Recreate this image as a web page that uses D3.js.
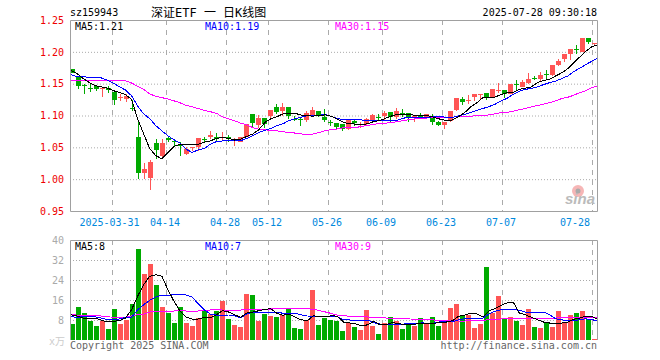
<!DOCTYPE html>
<html>
<head>
<meta charset="utf-8">
<script src="https://cdn.jsdelivr.net/npm/d3@7"></script>
<style>
body { margin: 0; background: #fff; }
svg { display: block; }
text { font-family: "DejaVu Sans Mono", "Noto Sans CJK SC", monospace; font-size: 10px; }
</style>
</head>
<body>
<div id="wrapper"></div>
<script>
// trading days shown on the chart
const dates = ["03-20","03-21","03-24","03-25","03-26","03-27","03-28","03-31","04-01","04-02","04-03","04-07","04-08","04-09","04-10","04-11",
  "04-14","04-15","04-16","04-17","04-18","04-21","04-22","04-23","04-24","04-25","04-28","04-29","04-30","05-06","05-07","05-08","05-09",
  "05-12","05-13","05-14","05-15","05-16","05-19","05-20","05-21","05-22","05-23","05-26","05-27","05-28","05-29","05-30","06-03","06-04",
  "06-05","06-06","06-09","06-10","06-11","06-12","06-13","06-16","06-17","06-18","06-19","06-20","06-23","06-24","06-25","06-26","06-27",
  "06-30","07-01","07-02","07-03","07-04","07-07","07-08","07-09","07-10","07-11","07-14","07-15","07-16","07-17","07-18","07-21","07-22",
  "07-23","07-24","07-25","07-28"]
const tickDates = ["03-31","04-14","04-28","05-12","05-26","06-09","06-23","07-07","07-28"]
const priceTicks = [0.95, 1.00, 1.05, 1.10, 1.15, 1.20, 1.25]
const volTicks = [8, 16, 24, 32, 40]

const opens = [1.173,1.161,1.148,1.143,1.146,1.143,1.143,1.137,1.129,1.126,
  1.1115,1.066,1.009,1.002,1.057,1.036,1.0645,1.0595,1.056,1.040,
  1.0505,1.051,1.0635,1.066,1.067,1.0667,1.067,1.0615,1.059,1.067,
  1.102,1.085,1.096,1.0985,1.114,1.107,1.113,1.0945,1.0945,1.0925,
  1.0995,1.107,1.0975,1.09,1.088,1.0865,1.0785,1.0915,1.086,1.0865,
  1.0925,1.097,1.0995,1.105,1.098,1.1047,1.1045,1.0955,1.0985,1.0955,
  1.0969,1.090,1.085,1.092,1.1083,1.1255,1.124,1.1286,1.134,1.135,
  1.128,1.1385,1.1395,1.133,1.1488,1.145,1.1515,1.159,1.158,1.1648,
  1.163,1.180,1.188,1.196,1.2047,1.20,1.221,1.213]
const closes = [1.167,1.147,1.147,1.142,1.142,1.143,1.140,1.125,1.129,1.130,
  1.1105,1.010,1.016,1.027,1.046,1.057,1.062,1.059,1.0515,1.048,
  1.0505,1.064,1.0632,1.069,1.0635,1.0667,1.064,1.0615,1.0655,1.086,
  1.088,1.096,1.0865,1.108,1.105,1.113,1.0995,1.094,1.094,1.1035,
  1.108,1.0995,1.0925,1.0895,1.082,1.0795,1.093,1.0875,1.086,1.094,
  1.1005,1.0965,1.1035,1.098,1.107,1.1045,1.097,1.0995,1.098,1.102,
  1.090,1.085,1.090,1.1068,1.127,1.1214,1.124,1.1333,1.134,1.1286,
  1.141,1.1395,1.133,1.149,1.148,1.152,1.158,1.1585,1.163,1.1642,
  1.1787,1.185,1.196,1.205,1.2026,1.221,1.215,1.2135]
const highs = [1.173,1.161,1.149,1.151,1.148,1.143,1.146,1.137,1.133,1.1345,
  1.125,1.092,1.0255,1.030,1.063,1.063,1.067,1.0595,1.059,1.050,
  1.051,1.064,1.0655,1.075,1.072,1.0734,1.069,1.065,1.067,1.086,
  1.102,1.1005,1.096,1.108,1.118,1.119,1.113,1.0985,1.097,1.107,
  1.113,1.107,1.11,1.0925,1.088,1.0865,1.095,1.094,1.0895,1.096,
  1.102,1.102,1.107,1.105,1.1115,1.11,1.1045,1.1,1.1035,1.102,
  1.1016,1.0917,1.090,1.1068,1.127,1.129,1.132,1.1333,1.134,1.135,
  1.141,1.1505,1.1395,1.149,1.155,1.156,1.166,1.162,1.168,1.172,
  1.1787,1.188,1.196,1.205,1.21,1.221,1.221,1.214]
const lows = [1.167,1.141,1.133,1.137,1.138,1.129,1.135,1.116,1.1225,1.121,
  1.107,1.0005,0.9995,0.983,1.031,1.032,1.058,1.0515,1.037,1.0385,
  1.045,1.045,1.058,1.063,1.058,1.062,1.059,1.0526,1.058,1.066,
  1.081,1.080,1.081,1.094,1.102,1.0995,1.094,1.0915,1.084,1.0905,
  1.097,1.097,1.09,1.083,1.0775,1.076,1.0775,1.083,1.081,1.0855,
  1.091,1.0915,1.093,1.088,1.094,1.097,1.09,1.09,1.095,1.094,
  1.085,1.083,1.0786,1.090,1.1068,1.117,1.118,1.1234,1.1266,1.124,
  1.127,1.135,1.1276,1.133,1.140,1.144,1.149,1.155,1.153,1.157,
  1.162,1.1776,1.184,1.187,1.197,1.1995,1.212,1.211]

const priceMa5 = [1.171,1.166,1.158,1.152,1.147,1.145,1.143,1.139,1.136,1.133,1.125,
  1.095,1.071,1.048,1.037,1.032,1.042,1.0515,1.055,1.055,1.054,1.055,1.058,1.060,1.064,
  1.0656,1.064,1.0615,1.063,1.067,1.071,1.0776,1.089,1.095,1.098,1.1026,1.103,1.1036,1.1005,1.0995,
  1.099,1.100,1.101,1.0985,1.094,1.089,1.087,1.0865,1.086,1.087,1.0906,1.092,1.096,1.0995,1.102,
  1.102,1.102,1.0995,1.0995,1.0995,
  1.097,1.094,1.092,1.093,1.0984,1.1047,1.1135,1.120,1.128,1.128,1.129,1.133,1.136,1.136,1.141,
  1.143,1.145,1.1516,1.155,1.157,1.162,1.167,1.1734,1.183,1.192,1.201,1.208,1.211]
const priceMa10 = [1.164,1.161,1.161,1.160,1.160,1.159,1.1555,1.151,1.145,1.140,1.131,1.115,1.1025,
  1.095,1.084,1.076,1.068,1.062,1.0565,1.047,1.042,1.046,1.048,1.055,1.059,
  1.060,1.060,1.060,1.0604,1.064,1.068,1.0734,1.0766,1.0797,1.084,1.087,1.092,1.095,1.0974,1.0995,
  1.1005,1.1005,1.1016,1.0984,1.095,1.0937,1.093,1.093,1.093,1.092,1.0917,1.0917,1.0917,1.092,1.093,
  1.096,1.097,1.097,1.097,1.0974,
  1.098,1.098,1.0974,1.097,1.0995,1.1016,1.1047,1.1083,1.111,1.114,1.1177,1.123,1.127,1.1333,1.138,
  1.141,1.1427,1.145,1.1484,1.1516,1.154,1.158,1.162,1.169,1.1745,1.18,1.1854,1.19]
const priceMa30 = [1.155,1.155,1.1555,1.155,1.155,1.155,1.155,1.1545,1.1545,1.1545,1.151,1.146,1.141,
  1.134,1.130,1.128,1.126,1.123,1.120,1.116,1.1136,1.111,1.108,1.106,1.1035,
  1.098,1.095,1.0917,1.088,1.0854,1.081,1.0786,1.0776,1.0766,1.076,1.0745,1.0734,1.0724,1.071,1.0703,
  1.071,1.0734,1.0766,1.0776,1.079,1.0807,1.081,1.081,1.083,1.0844,1.086,1.0875,1.088,1.089,1.0906,
  1.092,1.0937,1.095,1.0953,1.0964,
  1.0964,1.0967,1.097,1.0974,1.0984,1.0984,1.099,1.0995,1.10,1.101,1.1026,1.1047,1.1047,1.1068,1.109,
  1.111,1.1135,1.1156,1.118,1.120,1.123,1.1266,1.1286,1.1318,1.136,1.139,1.1437,1.147]

const volumes = [6.5,13.3,10.9,7.7,5.7,7.7,4.5,12.5,6.5,8.1,14.5,36.5,26.5,30.5,22.1,13.3,10.9,6.9,13.3,6.9,5.7,8.9,11.7,10.5,11.7,
  15.7,8.5,6.1,5.3,18.5,18.1,7.7,10.5,9.7,9.3,10.1,12.5,4.9,4.5,8.1,20.1,6.1,8.9,8.1,7.7,3.7,6.9,5.3,4.1,12.1,5.7,2.5,6.9,9.3,7.7,4.5,6.9,5.7,8.9,
  6.5,9.3,5.7,7.3,12.9,14.5,9.7,10.1,4.9,6.5,29.3,10.9,17.7,8.9,9.3,7.7,6.1,12.5,5.3,4.9,6.9,5.3,11.7,6.9,10.1,10.9,11.7,8.5,0.5]
const volMa5 = [10.1,9.6,8.8,8.8,8.8,8,7.2,7.5,7.7,8.8,12.1,17.5,22.1,25.5,26.1,25.5,20.1,15.5,11.5,9.2,8.4,8.4,9.1,8.8,10.1,
  11.7,11.2,10.1,9.1,10.8,11.2,11.7,12.3,12.5,10.7,9.9,10.4,9.1,8.1,7.7,9.7,9.3,9.3,9.7,9.5,7.1,6.8,6.4,5.6,6.1,7.5,6.1,6.1,6.9,6.7,6.1,6.4,6.4,6.8,
  6.4,6.7,7.2,7.2,7.7,9.5,9.9,10.8,10.4,9.2,11.7,12.5,13.9,14.8,15.2,10.8,10.1,9.1,8.1,7.2,6.8,6.8,6.8,7.2,8.3,8.8,9.5,9.5,8.1]
const volMa10 = [9.3,9.1,9.3,9.3,9.3,8.8,8.1,8.1,8.4,9.1,9.1,12.1,14.1,15.9,17.2,17.9,17.9,18.1,18.4,18,17.2,14.5,12.1,10.4,10,
  10,10,9.6,8.9,10.4,11.2,11.2,11.2,11.2,11.1,10.7,10.7,10.7,10.1,9.6,9.5,9.5,9.5,9.5,9.3,8.1,8,8,8,8,6.9,6.4,6.4,6.4,6.4,6.4,6.5,6.5,6.9,
  6.4,6.8,7.3,7.3,7.3,8.1,8.5,8.8,8.8,8.8,10.4,11.5,12.1,12.4,12.4,11.9,11.2,11.2,11.2,11.2,10.1,8.5,8.1,7.7,7.7,8.1,8.5,8.1,7.7]
const volMa30 = [10.4,9.9,9.9,9.8,9.7,9.6,9.3,9.1,8.8,9.0,9.7,10.1,10.4,11.2,11.3,11.6,11.6,11.6,11.9,11.6,11.5,11.6,11.9,12,12.1,
  12,12,12,12,12.2,12.3,12.3,12.3,12.4,12.5,12.6,12.8,12.8,12.7,12.5,12.3,11.8,11.2,10.6,9.9,9.7,9.5,9.3,9.3,9.2,9.1,9,8.8,8.7,8.6,8.5,8.4,8.3,8.2,
  8.3,8,7.7,7.7,7.7,7.6,7.6,7.7,7.7,7.7,8.3,8.3,8.4,8.5,8.5,8.6,8.7,8.8,8.8,8.8,8.8,8.8,9.2,9.2,9.2,9.1,9.1,9.1,9.1]

const width = 660
const height = 360
const left = 70
const right = 597
const priceTop = 20
const priceBottom = 211
const volTop = 240
const volBottom = 340

const upColor = "#ff5555"
const downColor = "#00aa00"
const frameColor = "#a0a0a0"

const svg = d3.select("#wrapper")
  .append("svg")
    .attr("width", width)
    .attr("height", height)

// bars sit on a 6px step, 5px wide
const xScale = d3.scaleBand()
  .domain(dates)
  .range([left, right])
  .paddingInner(1 / 6)

// the average lines run edge to edge of the plot
const lineX = d3.scaleLinear()
  .domain([0, dates.length - 1])
  .range([left + 1, right + 1])

const yPrice = d3.scaleLinear().domain([0.95, 1.25]).range([priceBottom, priceTop])
const yVol = d3.scaleLinear().domain([0, 40]).range([volBottom, volTop])

function drawGrid(yScale, ticks, top, bottom) {
  svg.append("g")
    .attr("transform", `translate(${left},0)`)
    .call(d3.axisRight(yScale).tickValues(ticks).tickSize(right - left).tickFormat(""))
    .call(g => g.select(".domain").remove())
    .selectAll("line")
      .attr("stroke", "#aaa")
      .attr("stroke-dasharray", "1,2")
  svg.append("g")
    .selectAll("line")
    .data(tickDates)
    .join("line")
      .attr("x1", d => xScale(d) + 0.5)
      .attr("x2", d => xScale(d) + 0.5)
      .attr("y1", top)
      .attr("y2", bottom)
      .attr("stroke", "#aaa")
      .attr("stroke-dasharray", "5,5")
}

function drawLine(values, yScale, color) {
  const line = d3.line()
    .x((d, i) => lineX(i))
    .y(d => yScale(d))
  svg.append("path")
    .attr("d", line(values))
    .attr("fill", "none")
    .attr("stroke", color)
    .attr("stroke-width", 1)
    .attr("shape-rendering", "crispEdges")
}

function label(x, y, txt, color, anchor) {
  return svg.append("text")
    .attr("x", x)
    .attr("y", y)
    .attr("fill", color)
    .attr("text-anchor", anchor || "start")
    .text(txt)
}

drawGrid(yPrice, priceTicks.slice(1, -1), priceTop, priceBottom)
drawGrid(yVol, volTicks.slice(0, -1), volTop, volBottom)

// sina watermark, sits behind the candles
const logo = svg.append("g")
logo.append("circle").attr("cx", 578).attr("cy", 191).attr("r", 6).attr("fill", "#f6b6b6")
logo.append("circle").attr("cx", 578).attr("cy", 191).attr("r", 2.5).attr("fill", "#aaa")
logo.append("text")
  .attr("x", 565)
  .attr("y", 204)
  .attr("fill", "#bbb")
  .style("font-family", "'Liberation Sans', sans-serif")
  .style("font-size", "15px")
  .style("font-weight", "bold")
  .style("font-style", "italic")
  .text("sina")

// candles
const candles = svg.append("g").selectAll("g")
  .data(dates)
  .join("g")
    .attr("shape-rendering", "crispEdges")
    .attr("fill", (d, i) => closes[i] >= opens[i] ? upColor : downColor)

candles.append("rect")
  .attr("x", d => xScale(d) + 2)
  .attr("width", 1)
  .attr("y", (d, i) => yPrice(highs[i]))
  .attr("height", (d, i) => yPrice(lows[i]) - yPrice(highs[i]))

candles.append("rect")
  .attr("x", d => xScale(d))
  .attr("width", xScale.bandwidth())
  .attr("y", (d, i) => yPrice(Math.max(opens[i], closes[i])))
  .attr("height", (d, i) => Math.max(1, Math.abs(yPrice(opens[i]) - yPrice(closes[i]))))

drawLine(priceMa30, yPrice, "#ff00ff")
drawLine(priceMa10, yPrice, "#0000ff")
drawLine(priceMa5, yPrice, "#000000")

// volume bars
svg.append("g").selectAll("rect")
  .data(volumes)
  .join("rect")
    .attr("shape-rendering", "crispEdges")
    .attr("x", (d, i) => xScale(dates[i]))
    .attr("width", xScale.bandwidth())
    .attr("y", d => yVol(d))
    .attr("height", d => volBottom - yVol(d))
    .attr("fill", (d, i) => closes[i] >= opens[i] ? upColor : downColor)

drawLine(volMa30, yVol, "#ff00ff")
drawLine(volMa10, yVol, "#0000ff")
drawLine(volMa5, yVol, "#000000")

// frames
svg.append("path")
  .attr("d", `M${left + 0.5},${priceBottom + 0.5}V${priceTop + 0.5}H${right + 0.5}V${priceBottom + 0.5}Z`)
  .attr("fill", "none")
  .attr("stroke", frameColor)
svg.append("path")
  .attr("d", `M${left + 0.5},${volBottom}V${volTop + 0.5}H${right + 0.5}V${volBottom}`)
  .attr("fill", "none")
  .attr("stroke", frameColor)

// axes
svg.append("g")
  .attr("transform", `translate(${left - 3},0)`)
  .call(d3.axisLeft(yPrice).tickValues(priceTicks).tickSize(0).tickFormat(d3.format(".2f")))
  .call(g => g.select(".domain").remove())
  .selectAll("text")
    .attr("fill", "#ee0000")
    .style("font-size", "10px")
    .style("font-family", "'DejaVu Sans Mono', monospace")

svg.append("g")
  .attr("transform", `translate(${left - 3},0)`)
  .call(d3.axisLeft(yVol).tickValues(volTicks).tickSize(0))
  .call(g => g.select(".domain").remove())
  .selectAll("text")
    .attr("fill", "#aaaaaa")
    .style("font-size", "10px")
    .style("font-family", "'DejaVu Sans Mono', monospace")

svg.append("g")
  .attr("transform", `translate(0,${priceBottom + 5})`)
  .call(d3.axisBottom(xScale).tickValues(tickDates).tickSize(0)
    .tickFormat(d => d == "03-31" ? "2025-" + d : d))
  .call(g => g.select(".domain").remove())
  .selectAll("text")
    .attr("fill", "#0088dd")
    .attr("dx", d => d == "07-28" ? -19.5 : (d == "03-31" ? -5 : -3.5))
    .style("font-size", "10px")
    .style("font-family", "'DejaVu Sans Mono', monospace")

// header and legends
label(left, 16, "sz159943", "#000")
label(151, 17, "深证ETF 一 日K线图", "#000").style("font-size", "12px").attr("xml:space", "preserve")
label(right, 16, "2025-07-28 09:30:18", "#000", "end")

label(75, 30, "MA5:1.21", "#000")
label(205, 30, "MA10:1.19", "#0000ff")
label(335, 30, "MA30:1.15", "#ff00ff")

label(75, 250, "MA5:8", "#000")
label(205, 250, "MA10:7", "#0000ff")
label(335, 250, "MA30:9", "#ff00ff")

label(49, 345, "x万", "#cccccc")
label(left, 349, "Copyright 2025 SINA.COM", "#666")
label(right, 349, "http://finance.sina.com.cn", "#666", "end")
</script>
</body>
</html>
